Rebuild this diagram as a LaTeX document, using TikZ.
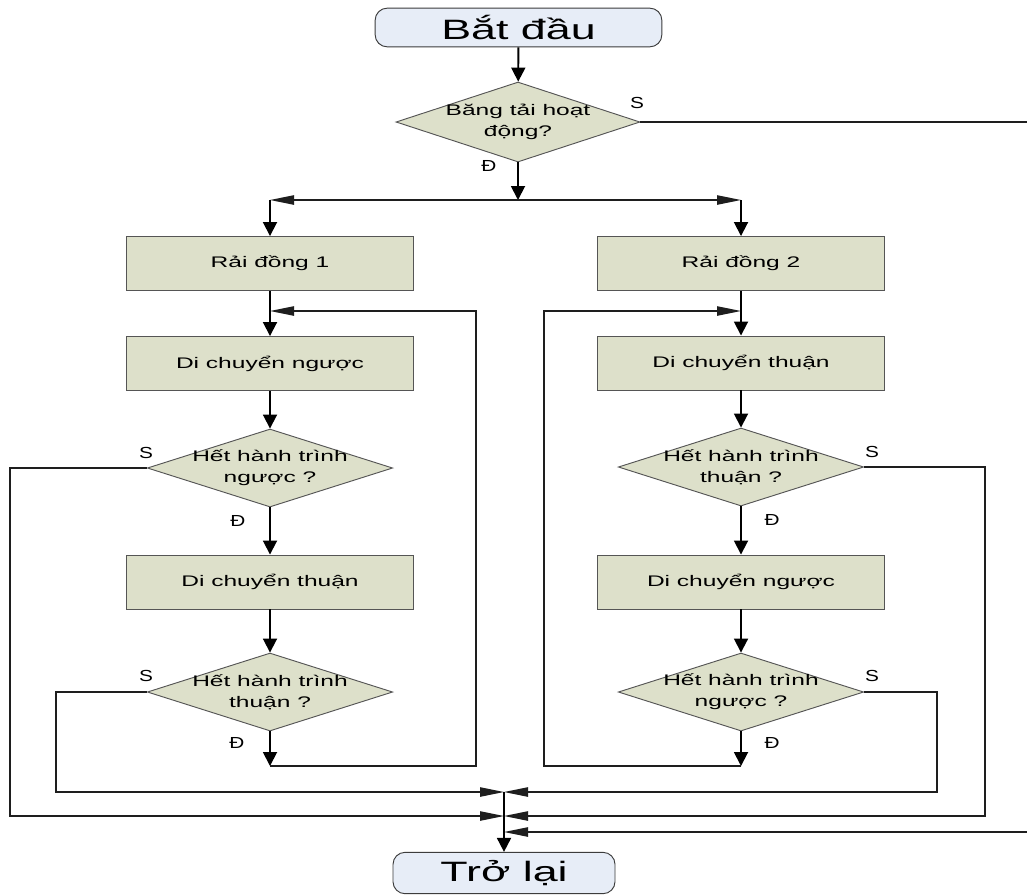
\documentclass[tikz,border=0pt]{standalone}
\usepackage{fontspec}
\setmainfont{Liberation Sans}[FakeStretch=1.6]
\newfontfamily\tagfont{Liberation Sans}[FakeStretch=1.3]
\usetikzlibrary{arrows.meta,shapes.geometric,calc}
\definecolor{boxfill}{RGB}{221,224,202}
\definecolor{boxline}{RGB}{85,85,85}
\definecolor{termfill}{RGB}{231,237,247}
\definecolor{termline}{RGB}{60,60,60}
\definecolor{wirecol}{RGB}{30,30,30}
\tikzset{
  proc/.style={draw=boxline, fill=boxfill, line width=0.7pt,
    minimum width=215pt, minimum height=40.5pt, inner sep=0pt,
    font=\fontsize{11.5}{14}\selectfont},
  term/.style={draw=termline, fill=termfill, rounded corners=9pt,
    line width=0.7pt, inner sep=0pt, font=\fontsize{21}{24}\selectfont},
  dec/.style={diamond, draw=boxline, fill=boxfill, line width=0.7pt,
    minimum width=184pt, minimum height=58.5pt, inner sep=0pt},
  dtext/.style={align=center, inner sep=0pt,
    font=\fontsize{11.5}{15.5}\selectfont},
  tag/.style={inner sep=0pt, font=\tagfont\fontsize{12}{14}\selectfont},
  flow/.style={draw=black, line width=1.4pt,
    -{Triangle[length=10.5pt,width=10.5pt]}},
  side/.style={draw=wirecol, line width=1pt,
    -{Triangle[length=18pt,width=7pt]}},
}
\begin{document}
\begin{tikzpicture}[x=0.75pt,y=-0.75pt]
\fill[white] (0,0) rectangle (1027,894);
\clip (0,0) rectangle (1027,894);

% terminals
\node[term, minimum width=215pt, minimum height=29pt] (start) at (518.5,27.5) {Bắt đầu};
\node[term, minimum width=166.5pt, minimum height=31pt] (end) at (504,873) {Trở lại};

% first decision
\node[dec, minimum width=183pt, minimum height=60pt] (d0) at (518,122) {};
\node[dtext] at (d0) {Băng tải hoạt\\động?};

% left column
\node[proc] (r1) at (270,263.5) {Rải đồng 1};
\node[proc] (l1) at (270,363.5) {Di chuyển ngược};
\node[dec] (ld1) at (270,468) {};
\node[dtext] at (ld1) {Hết hành trình\\ngược ?};
\node[proc] (l2) at (270,582) {Di chuyển thuận};
\node[dec] (ld2) at (270,692) {};
\node[dtext] at (ld2) {Hết hành trình\\thuận ?};

% right column
\node[proc] (r2) at (741,263.5) {Rải đồng 2};
\node[proc] (rb1) at (741,363) {Di chuyển thuận};
\node[dec] (rd1) at (741,467) {};
\node[dtext] at (rd1) {Hết hành trình\\thuận ?};
\node[proc] (rb2) at (741,582) {Di chuyển ngược};
\node[dec] (rd2) at (741,692) {};
\node[dtext] at (rd2) {Hết hành trình\\ngược ?};

% branch labels
\node[tag] at (637,103) {S};
\node[tag] at (489,166) {Đ};
\node[tag] at (146,453) {S};
\node[tag] at (238,521) {Đ};
\node[tag] at (146,676) {S};
\node[tag] at (237,743) {Đ};
\node[tag] at (872,452) {S};
\node[tag] at (772,520) {Đ};
\node[tag] at (872,676) {S};
\node[tag] at (772,743) {Đ};

% helper points
\coordinate (split) at (518,200);
\coordinate (lback) at (270,311);
\coordinate (lrail) at (476,311);
\coordinate (lend)  at (270,766);
\coordinate (rback) at (741,311);
\coordinate (rrail) at (544,311);
\coordinate (rend)  at (741,766);
\coordinate (j1) at (504,792);
\coordinate (j2) at (504,816);
\coordinate (j3) at (504,832);
\coordinate (lout1) at (10,816);
\coordinate (lout2) at (56,792);
\coordinate (rout1) at (985,816);
\coordinate (rout2) at (937,792);
\coordinate (fout) at (1034,832);

% main flow
\draw[flow] (start) -- (d0);
\draw[flow] (d0) -- (split);
\draw[side] (split) -- (split -| r1);
\draw[side] (split) -- (split -| r2);
\draw[flow] (split -| r1) -- (r1);
\draw[flow] (split -| r2) -- (r2);

% left branch
\draw[flow] (r1) -- (l1);
\draw[flow] (l1) -- (ld1);
\draw[flow] (ld1) -- (l2);
\draw[flow] (l2) -- (ld2);
\draw[flow] (ld2) -- (lend);
\draw[side] (lend) -| (lrail) -- (lback);

% right branch
\draw[flow] (r2) -- (rb1);
\draw[flow] (rb1) -- (rd1);
\draw[flow] (rd1) -- (rb2);
\draw[flow] (rb2) -- (rd2);
\draw[flow] (rd2) -- (rend);
\draw[side] (rend) -| (rrail) -- (rback);

% exits to the return point
\draw[side] (ld1.west) -| (lout1) -- (j2);
\draw[side] (ld2.west) -| (lout2) -- (j1);
\draw[side] (rd1.east) -| (rout1) -- (j2);
\draw[side] (rd2.east) -| (rout2) -- (j1);
\draw[side] (d0.east) -| (fout) -- (j3);
\draw[flow] (j1) -- (end);
\end{tikzpicture}
\end{document}
